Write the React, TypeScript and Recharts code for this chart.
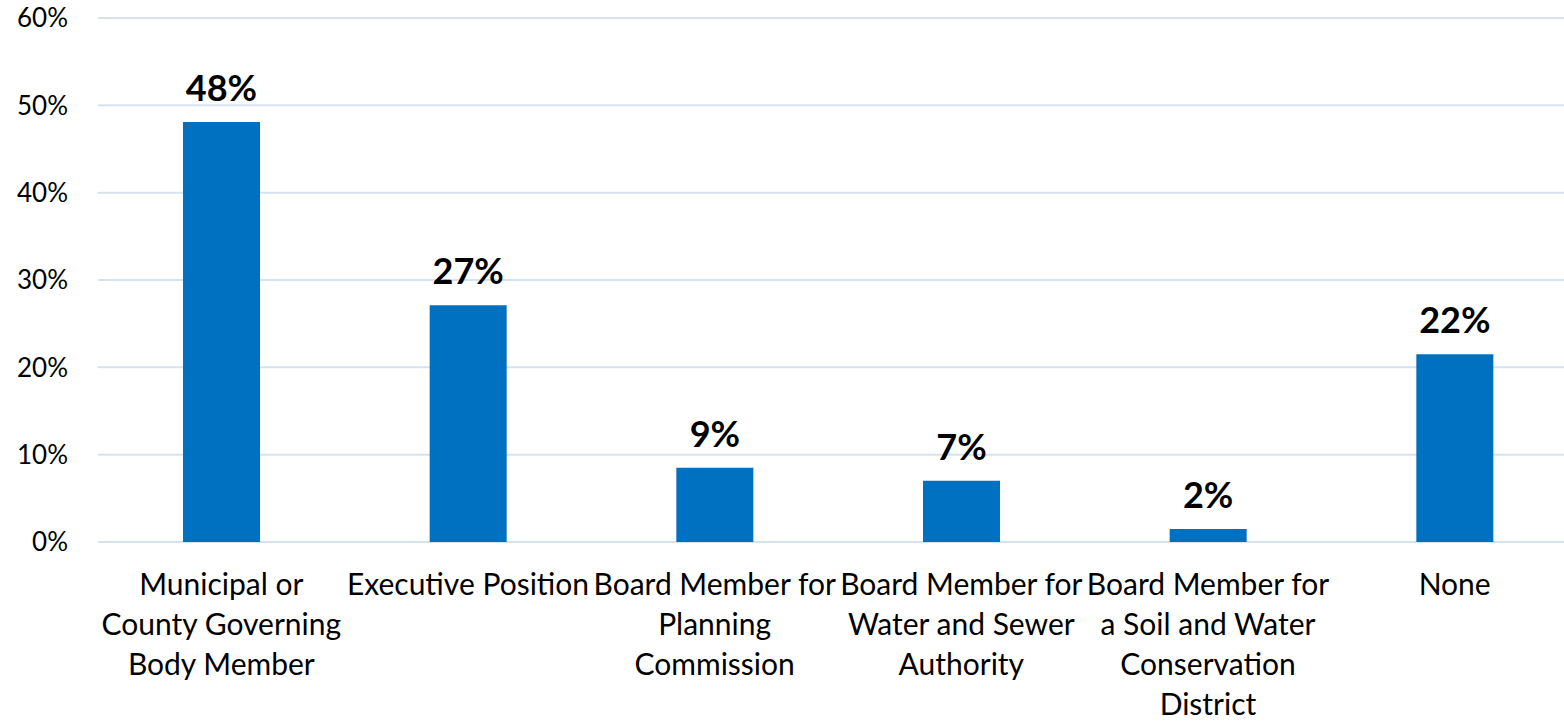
import React from 'react';
import { BarChart, Bar, XAxis, YAxis, CartesianGrid, LabelList } from 'recharts';

const categories = [
  'Municipal or\nCounty Governing\nBody Member',
  'Executive Position',
  'Board Member for\nPlanning\nCommission',
  'Board Member for\nWater and Sewer\nAuthority',
  'Board Member for\na Soil and Water\nConservation\nDistrict',
  'None',
];
const values = [48.1, 27.1, 8.5, 7.0, 1.5, 21.5];
const valueLabels = ['48%', '27%', '9%', '7%', '2%', '22%'];
const yTicks = [0, 10, 20, 30, 40, 50, 60];

const data = categories.map((c, i) => ({ name: c, value: values[i], label: valueLabels[i] }));

const FONT = 'Lato, "Noto Sans", sans-serif';

const XTick = (props: any) => {
  const { x, y, payload } = props;
  const lines = String(payload.value).split('\n');
  return (
    <text x={x} y={y} textAnchor="middle" fill="#000" fontSize={30} fontFamily={FONT}>
      {lines.map((l, i) => (
        <tspan key={i} x={x} dy={i === 0 ? 45 : 40}>
          {l}
        </tspan>
      ))}
    </text>
  );
};

export default function App() {
  return (
    <div style={{ position: 'absolute', left: 0, top: 0, width: 1564, height: 721, background: '#fff', fontFamily: FONT, overflow: 'hidden' }}>
      <BarChart
        width={1564}
        height={721}
        data={data}
        margin={{ top: 18, right: -14, left: 0, bottom: 0 }}
        barCategoryGap={0}
      >
        <CartesianGrid vertical={false} stroke="#d5e3f1" strokeWidth={2} />
        <XAxis
          dataKey="name"
          interval={0}
          height={179}
          axisLine={false}
          tickLine={false}
          tick={<XTick />}
        />
        <YAxis
          width={98}
          domain={[0, 60]}
          ticks={yTicks}
          axisLine={false}
          tickLine={false}
          tickMargin={24}
          tickFormatter={(v: number) => `${v}%`}
          tick={{ fill: '#000', fontSize: 26, fontFamily: FONT }}
        />
        <Bar dataKey="value" fill="#0070C0" barSize={77} isAnimationActive={false}>
          <LabelList
            dataKey="label"
            position="top"
            offset={21}
            fill="#000"
            fontSize={36}
            fontWeight={700}
            fontFamily={FONT}
          />
        </Bar>
      </BarChart>
    </div>
  );
}
